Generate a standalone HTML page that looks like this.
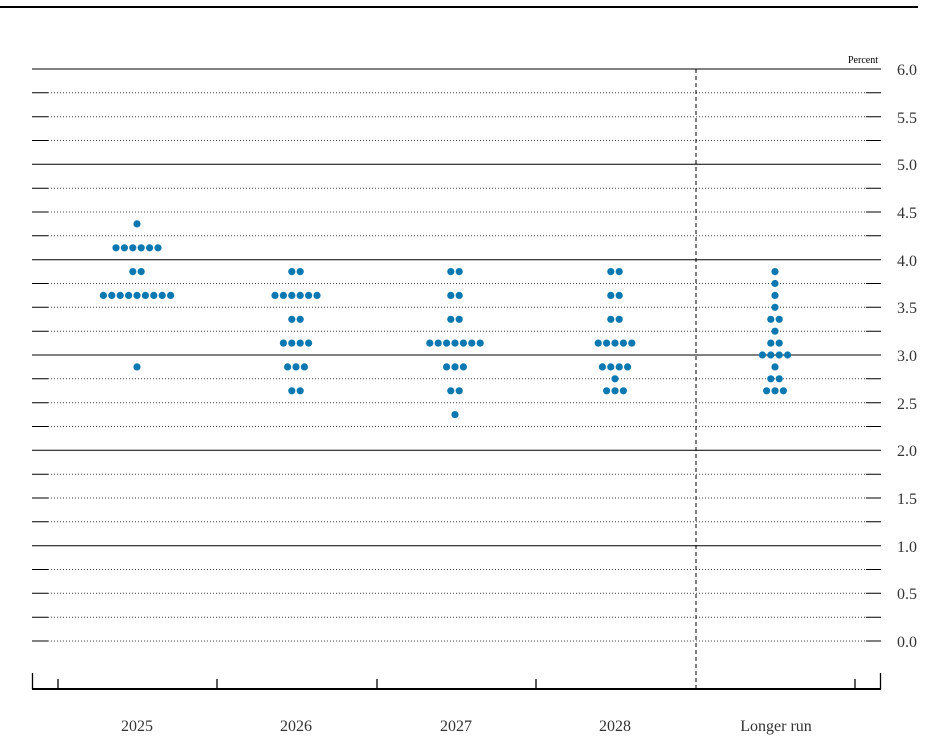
<!DOCTYPE html>
<html><head><meta charset="utf-8"><style>
html,body{margin:0;padding:0;background:#fff;}
svg{display:block;font-family:"Liberation Serif",serif;}
</style></head><body>
<svg width="947" height="753" viewBox="0 0 947 753" xmlns="http://www.w3.org/2000/svg">
<defs>
<g id="r1" fill="#0b78b1"><circle cx="0" cy="0" r="3.6"/></g>
<g id="r2" fill="#0b78b1"><circle cx="-4.2" cy="0" r="3.6"/><circle cx="4.2" cy="0" r="3.6"/></g>
<g id="r3" fill="#0b78b1"><circle cx="-8.4" cy="0" r="3.6"/><circle cx="0" cy="0" r="3.6"/><circle cx="8.4" cy="0" r="3.6"/></g>
<g id="r4"><use href="#r2" x="-8.4"/><use href="#r2" x="8.4"/></g>
<g id="r5"><use href="#r1" x="-16.8"/><use href="#r3"/><use href="#r1" x="16.8"/></g>
<g id="r6"><use href="#r3" x="-12.6"/><use href="#r3" x="12.6"/></g>
<g id="r7"><use href="#r3" x="-16.8"/><use href="#r1"/><use href="#r3" x="16.8"/></g>
<g id="r9"><use href="#r3" x="-25.2"/><use href="#r3"/><use href="#r3" x="25.2"/></g>
</defs>
<line x1="0" y1="7" x2="918" y2="7" stroke="#000" stroke-width="2"/>
<g stroke="#000" stroke-width="1">
<line x1="32" y1="69" x2="881" y2="69"/>
<line x1="32" y1="164.3" x2="881" y2="164.3"/>
<line x1="32" y1="259.7" x2="881" y2="259.7"/>
<line x1="32" y1="355" x2="881" y2="355"/>
<line x1="32" y1="450.3" x2="881" y2="450.3"/>
<line x1="32" y1="545.7" x2="881" y2="545.7"/>
</g>
<g stroke="#444" stroke-width="1" stroke-dasharray="1,2">
<line x1="48" y1="92.8" x2="866" y2="92.8"/><line x1="48" y1="116.7" x2="866" y2="116.7"/><line x1="48" y1="140.5" x2="866" y2="140.5"/>
<line x1="48" y1="188.2" x2="866" y2="188.2"/><line x1="48" y1="212" x2="866" y2="212"/><line x1="48" y1="235.8" x2="866" y2="235.8"/>
<line x1="48" y1="283.5" x2="866" y2="283.5"/><line x1="48" y1="307.3" x2="866" y2="307.3"/><line x1="48" y1="331.2" x2="866" y2="331.2"/>
<line x1="48" y1="378.8" x2="866" y2="378.8"/><line x1="48" y1="402.7" x2="866" y2="402.7"/><line x1="48" y1="426.5" x2="866" y2="426.5"/>
<line x1="48" y1="474.2" x2="866" y2="474.2"/><line x1="48" y1="498" x2="866" y2="498"/><line x1="48" y1="521.8" x2="866" y2="521.8"/>
<line x1="48" y1="569.5" x2="866" y2="569.5"/><line x1="48" y1="593.3" x2="866" y2="593.3"/><line x1="48" y1="617.2" x2="866" y2="617.2"/>
<line x1="48" y1="641" x2="866" y2="641"/>
</g>
<g stroke="#000" stroke-width="1">
<path d="M32 92.8h16M32 116.7h16M32 140.5h16M32 188.2h16M32 212h16M32 235.8h16M32 283.5h16M32 307.3h16M32 331.2h16M32 378.8h16M32 402.7h16M32 426.5h16M32 474.2h16M32 498h16M32 521.8h16M32 569.5h16M32 593.3h16M32 617.2h16M32 641h16"/>
<path d="M866 92.8h15M866 116.7h15M866 140.5h15M866 188.2h15M866 212h15M866 235.8h15M866 283.5h15M866 307.3h15M866 331.2h15M866 378.8h15M866 402.7h15M866 426.5h15M866 474.2h15M866 498h15M866 521.8h15M866 569.5h15M866 593.3h15M866 617.2h15M866 641h15"/>
</g>
<line x1="696" y1="69" x2="696" y2="689" stroke="#000" stroke-width="1" stroke-dasharray="4,3"/>
<g stroke="#000" stroke-width="1.3">
<line x1="32" y1="689" x2="881" y2="689" stroke-width="2"/>
<line x1="32.5" y1="673" x2="32.5" y2="689"/><line x1="880.5" y1="673" x2="880.5" y2="689"/>
<line x1="58" y1="679" x2="58" y2="689"/><line x1="217" y1="679" x2="217" y2="689"/><line x1="377" y1="679" x2="377" y2="689"/>
<line x1="536" y1="679" x2="536" y2="689"/><line x1="855" y1="679" x2="855" y2="689"/>
</g>
<g font-size="16" fill="#333">
<text x="897" y="75">6.0</text><text x="897" y="123">5.5</text><text x="897" y="170">5.0</text><text x="897" y="218">4.5</text>
<text x="897" y="266">4.0</text><text x="897" y="313">3.5</text><text x="897" y="361">3.0</text><text x="897" y="409">2.5</text>
<text x="897" y="456">2.0</text><text x="897" y="504">1.5</text><text x="897" y="552">1.0</text><text x="897" y="599">0.5</text>
<text x="897" y="647">0.0</text>
</g>
<text x="878" y="63" font-size="10" text-anchor="end" fill="#000">Percent</text>
<g font-size="16" fill="#333" text-anchor="middle">
<text x="137" y="731">2025</text><text x="296" y="731">2026</text><text x="456" y="731">2027</text><text x="615" y="731">2028</text><text x="776" y="731">Longer run</text>
</g>
<!-- 2025 -->
<use href="#r1" x="137" y="223.9"/><use href="#r6" x="137" y="247.8"/><use href="#r2" x="137" y="271.6"/><use href="#r9" x="137" y="295.4"/><use href="#r1" x="137" y="366.9"/>
<!-- 2026 -->
<use href="#r2" x="296" y="271.6"/><use href="#r6" x="296" y="295.4"/><use href="#r2" x="296" y="319.3"/><use href="#r4" x="296" y="343.1"/><use href="#r3" x="296" y="366.9"/><use href="#r2" x="296" y="390.8"/>
<!-- 2027 -->
<use href="#r2" x="455" y="271.6"/><use href="#r2" x="455" y="295.4"/><use href="#r2" x="455" y="319.3"/><use href="#r7" x="455" y="343.1"/><use href="#r3" x="455" y="366.9"/><use href="#r2" x="455" y="390.8"/><use href="#r1" x="455" y="414.6"/>
<!-- 2028 -->
<use href="#r2" x="615" y="271.6"/><use href="#r2" x="615" y="295.4"/><use href="#r2" x="615" y="319.3"/><use href="#r5" x="615" y="343.1"/><use href="#r4" x="615" y="366.9"/><use href="#r1" x="615" y="378.8"/><use href="#r3" x="615" y="390.8"/>
<!-- Longer run -->
<use href="#r1" x="775" y="271.6"/><use href="#r1" x="775" y="283.5"/><use href="#r1" x="775" y="295.4"/><use href="#r1" x="775" y="307.3"/><use href="#r2" x="775" y="319.3"/><use href="#r1" x="775" y="331.2"/><use href="#r2" x="775" y="343.1"/><use href="#r4" x="775" y="355"/><use href="#r1" x="775" y="366.9"/><use href="#r2" x="775" y="378.8"/><use href="#r3" x="775" y="390.8"/>
</svg>
</body></html>
